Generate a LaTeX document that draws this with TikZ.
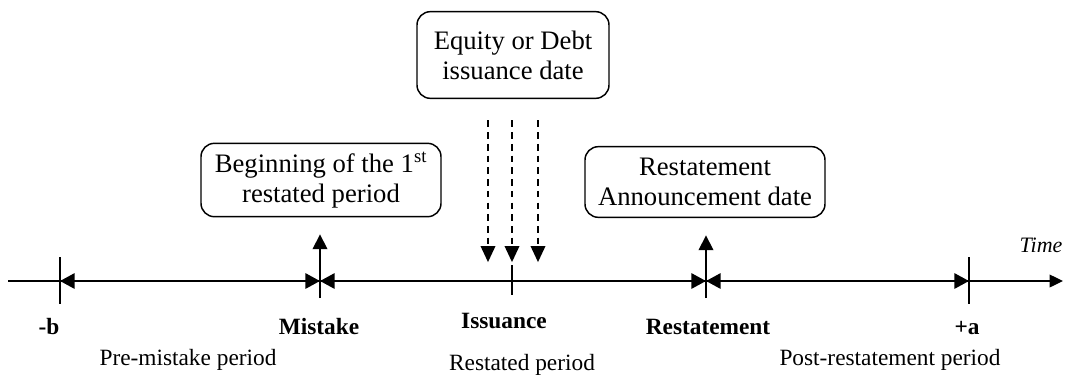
\documentclass[tikz,border=0pt]{standalone}
\usepackage{fontspec}
\setmainfont{Liberation Serif}
\usetikzlibrary{arrows.meta,calc}
\tikzset{
  caja/.style={draw, line width=1.1pt, rounded corners=10pt, align=center, inner sep=0pt,
    font=\fontsize{20}{22.5}\selectfont},
  eje/.style={line width=1pt},
  tramo/.style={line width=1.6pt, {Triangle[length=11pt,width=11.5pt]}-{Triangle[length=11pt,width=11.5pt]}},
  arriba/.style={line width=1pt, -{Triangle[length=11pt,width=11pt]}},
  discont/.style={line width=1pt, dash pattern=on 5pt off 3.8pt, -{Triangle[length=12pt,width=11pt]}},
  etiqueta/.style={inner sep=0pt, font=\bfseries\fontsize{17.5}{20}\selectfont},
  periodo/.style={inner sep=0pt, font=\fontsize{17.5}{20}\selectfont}
}
\begin{document}
\begin{tikzpicture}[x=0.75pt, y=-0.75pt]
        \useasboundingbox (0,0) rectangle (1065,376);
        %%%%%%%%%%%%%%%%%%%%%%%% Cajas %%%%%%%%%%%%%%%%%%%%%%%%%%%%%%%%%%%
        \node[caja, minimum width=144pt, minimum height=65pt] (emision) at (513,55) {Equity or Debt\\issuance date};
        \node[caja, minimum width=180pt, minimum height=55pt] (inicio) at (321,180) {Beginning of the 1\textsuperscript{st}\\restated period};
        \node[caja, minimum width=180pt, minimum height=53pt] (anuncio) at (705,182) {Restatement\\Announcement date};
        %%%%%%%%%%%%%%%%%%%%%%%% Eje de tiempo %%%%%%%%%%%%%%%%%%%%%%%%%%%%%%%%%%
        \coordinate (ini) at (8,281);
        \coordinate (fin) at (1063,281);
        \coordinate (b) at (60,281);
        \coordinate (mis) at (320,281);
        \coordinate (emi) at (512,281);
        \coordinate (res) at (706,281);
        \coordinate (a) at (969,281);
        \draw[eje, -{Triangle[length=10pt,width=9.5pt]}] (ini) -- (fin); %Eje completo
        \node[inner sep=0pt, font=\itshape\fontsize{16.5}{18}\selectfont] (tiempo) at (1041,245) {Time};
        \draw[eje] ($(b)+(0,-24)$) -- ($(b)+(0,23)$); %Marca -b
        \draw[eje] ($(a)+(0,-24)$) -- ($(a)+(0,23)$); %Marca +a
        \draw[eje] ($(emi)+(0,-16)$) -- ($(emi)+(0,14)$); %Marca emision
        %%%%%%%%%%%%%%%%%%%%%%%% Tramos %%%%%%%%%%%%%%%%%%%%%%%%%%%%%%%%%%
        \draw[tramo] (b) -- (mis);
        \draw[tramo] (mis) -- (res);
        \draw[tramo] (res) -- (a);
        %%%%%%%%%%%%%%%%%%%%%%%% Flechas hacia las cajas %%%%%%%%%%%%%%%%%%%%%%%%%%%%%
        \draw[arriba, shorten >=12.75pt] ($(mis)+(0,17)$) -- (inicio.south -| mis);
        \draw[arriba, shorten >=13pt] ($(res)+(0,17)$) -- (anuncio.south -| res);
        \foreach \dx in {-25,-1,25}
          \draw[discont, shorten <=16pt] ([xshift=\dx*0.75pt]emision.south) -- ++(0,163);
        %%%%%%%%%%%%%%%%%%%%%%%% Etiquetas %%%%%%%%%%%%%%%%%%%%%%%%%%%%%%%%%%
        \node[etiqueta] (lb) at (49,327) {-b};
        \node[etiqueta] (lmis) at (319,327) {Mistake};
        \node[etiqueta] (lemi) at (504,321) {Issuance};
        \node[etiqueta] (lres) at (708,327) {Restatement};
        \node[etiqueta] (la) at (967,328) {+a};
        \node[periodo] (pre) at (188,360) {Pre-mistake period};
        \node[periodo] (rest) at (522,365) {Restated period};
        \node[periodo] (post) at (890,360) {Post-restatement period};
      \end{tikzpicture}
\end{document}
